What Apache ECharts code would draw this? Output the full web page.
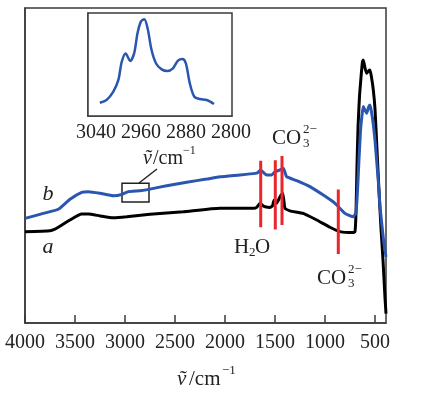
<!DOCTYPE html>
<html>
<head>
<meta charset="utf-8">
<script src="https://cdn.jsdelivr.net/npm/echarts@6.0.0/dist/echarts.min.js"></script>
<style>
	html, body { margin: 0; padding: 0; background: #fff; }
	#chart { width: 439px; height: 398px; }
</style>
</head>
<body>
<div id="chart"></div>
<script>
// main spectrum, x = wavenumber (cm-1), y = relative intensity
const tickValues = [4000, 3500, 3000, 2500, 2000, 1500, 1000, 500]

const waveA = [4000, 3750, 3700, 3667, 3550, 3433, 3367, 3250, 3117, 2983, 2750, 2417, 2050, 1717, 1680, 1650, 1620, 1600, 1550, 1525, 1510, 1495, 1483, 1457, 1440, 1423, 1410, 1400, 1350, 1217, 1083, 950, 850, 717, 700, 690, 680, 670, 655, 640, 625, 617, 600, 583, 565, 550, 535, 517, 500, 480, 460, 440, 420, 400, 390]
const valA = [29, 29.3, 29.8, 30.4, 32.7, 34.6, 34.6, 34, 33.4, 33.7, 34.5, 35.3, 36.4, 36.4, 36.8, 38, 37.2, 36.9, 36.7, 37.2, 39, 38.3, 38, 39.6, 40.6, 41.2, 38.5, 36.4, 35.6, 34.8, 32.7, 30.4, 29, 28.7, 29, 35, 50, 62, 72, 78, 83, 83.5, 81, 79.3, 80, 80.3, 78, 74, 68, 55, 42, 30, 20, 8, 3]

const waveB = [4000, 3817, 3667, 3550, 3433, 3367, 3250, 3117, 3033, 2967, 2850, 2750, 2583, 2383, 2183, 2050, 1850, 1700, 1670, 1643, 1610, 1583, 1533, 1500, 1450, 1417, 1400, 1383, 1283, 1150, 1017, 900, 800, 717, 690, 675, 660, 645, 630, 617, 600, 583, 565, 550, 535, 517, 500, 467, 450, 417, 390]
const valB = [33.2, 34.8, 36.1, 39.3, 41.5, 41.7, 41.2, 40.4, 40.8, 41.7, 42, 42.5, 43.6, 44.7, 45.7, 46.4, 47, 47.5, 47.8, 48.6, 47.6, 47, 47, 48, 48.6, 49.1, 47.8, 46.4, 45.2, 43.3, 40.6, 38, 34.8, 33.7, 35, 42, 52, 61, 66, 68.7, 67.5, 66.6, 68.5, 69.2, 67, 63, 58, 45, 37, 27, 21]

// red band markers
const redWave = [1643, 1497, 1430, 867]
const redLow = [30.4, 29.7, 31.1, 21.9]
const redHigh = [51.5, 51.7, 53, 42.4]

// zoomed region box on curve b
const boxWave = [3030, 2760]
const boxVal = [44.4, 38.4]

// inset: C-H stretch region
const insetTicks = [3040, 2960, 2880, 2800]
const insetWave = [3033, 3021, 3009, 3000, 2994, 2987, 2979, 2972, 2966, 2960, 2954, 2948, 2941, 2933, 2923, 2913, 2903, 2894, 2886, 2880, 2873, 2865, 2855, 2843, 2830]
const insetVal = [12.9, 15.5, 23.6, 35, 52.7, 60.8, 53.4, 60.8, 80.3, 91.6, 93.9, 85, 64, 51, 45.3, 43.7, 46.3, 53.7, 55.3, 51, 31.7, 18.7, 16.5, 15.5, 11.7]

const pairs = (xs, ys) => xs.map((x, i) => [x, ys[i]])

const serif = "'Liberation Serif', 'DejaVu Serif', serif"
const axisColor = "#3a3a3a"
const blue = "#2a56b0"
const red = "#e8262c"

const chart = echarts.init(document.getElementById("chart"))

let redSeries = redWave.map((w, i) => ({
	type: "line",
	xAxisIndex: 0,
	yAxisIndex: 0,
	data: [[w, redLow[i]], [w, redHigh[i]]],
	symbol: "none",
	lineStyle: { color: red, width: 3 },
	z: 5,
	silent: true
}))

let option = {
	animation: false,
	backgroundColor: "#fff",
	grid: [
		{
			left: 25,
			right: 53,
			top: 8,
			bottom: 75,
			show: true,
			borderColor: axisColor,
			borderWidth: 1.5
		},
		{
			left: 88,
			right: 207,
			top: 13,
			bottom: 282,
			show: true,
			backgroundColor: "#fff",
			borderColor: axisColor,
			borderWidth: 1.5,
			z: 10
		}
	],
	xAxis: [
		{
			type: "value",
			gridIndex: 0,
			min: 390,
			max: 4000,
			inverse: true,
			axisLine: { show: true, lineStyle: { color: axisColor, width: 1.5 } },
			splitLine: { show: false },
			axisTick: {
				show: true,
				inside: true,
				length: 8,
				customValues: tickValues,
				lineStyle: { color: axisColor, width: 1.5 }
			},
			axisLabel: {
				customValues: tickValues,
				formatter: v => String(v),
				margin: 10,
				fontFamily: serif,
				fontSize: 20,
				color: "#222"
			}
		},
		{
			type: "value",
			gridIndex: 1,
			min: 2798,
			max: 3054,
			inverse: true,
			axisLine: { show: true, lineStyle: { color: axisColor, width: 1.5 } },
			splitLine: { show: false },
			axisTick: {
				show: true,
				inside: true,
				length: 5,
				customValues: insetTicks,
				lineStyle: { color: axisColor, width: 1.5 }
			},
			axisLabel: {
				customValues: insetTicks,
				formatter: v => String(v),
				margin: 7,
				fontFamily: serif,
				fontSize: 20,
				color: "#222"
			}
		}
	],
	yAxis: [
		{
			type: "value",
			gridIndex: 0,
			min: 0,
			max: 100,
			axisLine: { show: true, lineStyle: { color: axisColor, width: 1.5 } },
			axisTick: { show: false },
			axisLabel: { show: false },
			splitLine: { show: false }
		},
		{
			type: "value",
			gridIndex: 1,
			min: 0,
			max: 100,
			axisLine: { show: true, lineStyle: { color: axisColor, width: 1.5 } },
			axisTick: { show: false },
			axisLabel: { show: false },
			splitLine: { show: false }
		}
	],
	series: [
		{
			name: "a",
			type: "line",
			xAxisIndex: 0,
			yAxisIndex: 0,
			data: pairs(waveA, valA),
			symbol: "none",
			smooth: 0.15,
			lineStyle: { color: "#000", width: 3 },
			z: 2
		},
		{
			name: "b",
			type: "line",
			xAxisIndex: 0,
			yAxisIndex: 0,
			data: pairs(waveB, valB),
			symbol: "none",
			smooth: 0.15,
			lineStyle: { color: blue, width: 3 },
			z: 3,
			markArea: {
				silent: true,
				itemStyle: { color: "rgba(0,0,0,0)", borderColor: "#222", borderWidth: 1.5 },
				data: [[{ coord: [boxWave[0], boxVal[0]] }, { coord: [boxWave[1], boxVal[1]] }]]
			}
		},
		...redSeries,
		{
			name: "inset",
			type: "line",
			xAxisIndex: 1,
			yAxisIndex: 1,
			data: pairs(insetWave, insetVal),
			symbol: "none",
			smooth: 0.3,
			lineStyle: { color: blue, width: 2.5 },
			z: 12
		}
	],
	graphic: [
		// x axis title
		{ type: "text", style: { x: 177, y: 379, text: "ṽ", font: "italic 21px " + serif, fill: "#222", textVerticalAlign: "middle" } },
		{ type: "text", style: { x: 189, y: 379, text: "/cm", font: "21px " + serif, fill: "#222", textVerticalAlign: "middle" } },
		{ type: "text", style: { x: 222, y: 371, text: "−1", font: "13px " + serif, fill: "#222", textVerticalAlign: "middle" } },
		// zoom box label and leader
		{ type: "line", shape: { x1: 139, y1: 183, x2: 157, y2: 169 }, style: { stroke: "#222", lineWidth: 1.5 } },
		{ type: "text", style: { x: 143, y: 159, text: "ṽ", font: "italic 20px " + serif, fill: "#222", textVerticalAlign: "middle" } },
		{ type: "text", style: { x: 153, y: 159, text: "/cm", font: "20px " + serif, fill: "#222", textVerticalAlign: "middle" } },
		{ type: "text", style: { x: 183, y: 151, text: "−1", font: "12px " + serif, fill: "#222", textVerticalAlign: "middle" } },
		// curve names
		{ type: "text", style: { x: 48, y: 194, text: "b", font: "italic 22px " + serif, fill: "#222", textAlign: "center", textVerticalAlign: "middle" } },
		{ type: "text", style: { x: 48, y: 247, text: "a", font: "italic 22px " + serif, fill: "#222", textAlign: "center", textVerticalAlign: "middle" } },
		// H2O
		{ type: "text", style: { x: 234, y: 247, text: "H", font: "21px " + serif, fill: "#222", textVerticalAlign: "middle" } },
		{ type: "text", style: { x: 249, y: 253, text: "2", font: "13px " + serif, fill: "#222", textVerticalAlign: "middle" } },
		{ type: "text", style: { x: 255, y: 247, text: "O", font: "21px " + serif, fill: "#222", textVerticalAlign: "middle" } },
		// CO3 2- upper
		{ type: "text", style: { x: 272, y: 138, text: "CO", font: "21px " + serif, fill: "#222", textVerticalAlign: "middle" } },
		{ type: "text", style: { x: 303, y: 130, text: "2−", font: "13px " + serif, fill: "#222", textVerticalAlign: "middle" } },
		{ type: "text", style: { x: 303, y: 144, text: "3", font: "13px " + serif, fill: "#222", textVerticalAlign: "middle" } },
		// CO3 2- lower
		{ type: "text", style: { x: 317, y: 278, text: "CO", font: "21px " + serif, fill: "#222", textVerticalAlign: "middle" } },
		{ type: "text", style: { x: 348, y: 270, text: "2−", font: "13px " + serif, fill: "#222", textVerticalAlign: "middle" } },
		{ type: "text", style: { x: 348, y: 284, text: "3", font: "13px " + serif, fill: "#222", textVerticalAlign: "middle" } }
	]
}

chart.setOption(option)
</script>
</body>
</html>
